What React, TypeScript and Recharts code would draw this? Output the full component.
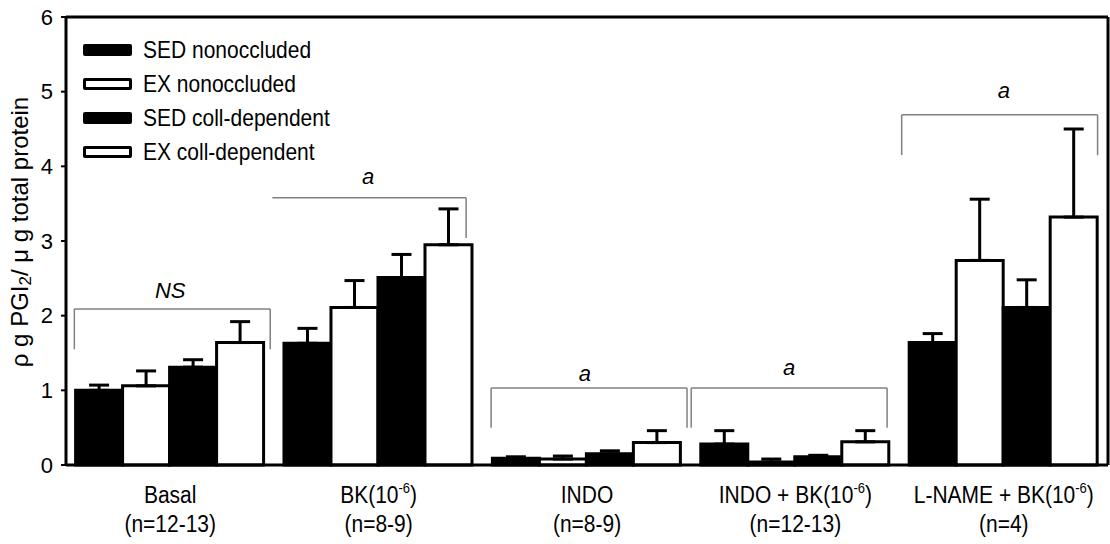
import React from 'react';
import {
  BarChart,
  Bar,
  ScatterChart,
  XAxis,
  YAxis,
  ErrorBar,
  ReferenceLine,
  ReferenceDot,
  Legend,
} from 'recharts';

// Treatment groups along the x axis
const groups = ['Basal', 'BK', 'INDO', 'INDO+BK', 'L-NAME+BK'];
const labelMain = ['Basal', 'BK(10', 'INDO', 'INDO + BK(10', 'L-NAME + BK(10'];
const labelSup = ['', '-6', '', '-6', '-6'];
const labelTail = ['', ')', '', ')', ')'];
const labelN = ['(n=12-13)', '(n=8-9)', '(n=8-9)', '(n=12-13)', '(n=4)'];

// Mean PGI2 release per series
const sedNonoccluded = [1.0, 1.63, 0.09, 0.28, 1.64];
const exNonoccluded = [1.06, 2.11, 0.08, 0.04, 2.74];
const sedCollDependent = [1.31, 2.51, 0.15, 0.11, 2.11];
const exCollDependent = [1.64, 2.95, 0.3, 0.31, 3.32];

// SEM (drawn upward only)
const sedNonoccludedErr = [0.07, 0.2, 0.02, 0.18, 0.12];
const exNonoccludedErr = [0.2, 0.36, 0.04, 0.04, 0.82];
const sedCollDependentErr = [0.1, 0.31, 0.04, 0.02, 0.37];
const exCollDependentErr = [0.28, 0.48, 0.16, 0.15, 1.18];

const seriesNames = ['SED nonoccluded', 'EX nonoccluded', 'SED coll-dependent', 'EX coll-dependent'];
const seriesKeys = ['sedNon', 'exNon', 'sedColl', 'exColl'];
const seriesFills = ['#000000', '#ffffff', '#000000', '#ffffff'];

const yTicks = [0, 1, 2, 3, 4, 5, 6];

// Significance brackets, in group-axis units (0..5) and y units
const bracketStart = [0.04, 0.99, 2.04, 3.0, 4.01];
const bracketEnd = [0.98, 1.92, 2.98, 3.94, 4.95];
const bracketTop = [2.09, 3.58, 1.03, 1.03, 4.69];
const bracketFoot = [1.55, 3.04, 0.5, 0.5, 4.15];
const bracketLeftLeg = [true, false, true, true, true];
const bracketText = ['NS', 'a', 'a', 'a', 'a'];
const bracketTextX = [0.5, 1.45, 2.49, 3.47, 4.5];
const bracketTextY = [2.34, 3.87, 1.22, 1.3, 5.02];

const FONT = "'Liberation Sans', Arial, Helvetica, sans-serif";
const W = 1110;
const H = 544;
const MARGIN = { top: 17, right: 2, left: 66, bottom: 79 };

const data = groups.map((g, i) => ({
  group: g,
  sedNon: sedNonoccluded[i],
  exNon: exNonoccluded[i],
  sedColl: sedCollDependent[i],
  exColl: exCollDependent[i],
  sedNonErr: [0, sedNonoccludedErr[i]],
  exNonErr: [0, exNonoccludedErr[i]],
  sedCollErr: [0, sedCollDependentErr[i]],
  exCollErr: [0, exCollDependentErr[i]],
}));

const GroupTick = (props: any) => {
  const { x, y, payload } = props;
  const i = groups.indexOf(payload.value);
  return (
    <g>
      <g transform={`translate(${x},${y + 38}) scale(1,1.15)`}>
        <text x={0} y={0} textAnchor="middle" fontSize={21} fill="#000" fontFamily={FONT}>
          {labelMain[i]}
          {labelSup[i] ? (
            <tspan dy={-9} fontSize={13}>
              {labelSup[i]}
            </tspan>
          ) : null}
          {labelTail[i] ? (
            <tspan dy={9} fontSize={21}>
              {labelTail[i]}
            </tspan>
          ) : null}
        </text>
      </g>
      <g transform={`translate(${x},${y + 67}) scale(1,1.15)`}>
        <text x={0} y={0} textAnchor="middle" fontSize={21} fill="#000" fontFamily={FONT}>
          {labelN[i]}
        </text>
      </g>
    </g>
  );
};

const YTitle = (props: any) => {
  const vb = props.viewBox || { x: 0, y: 17, width: 66, height: 448 };
  const cx = vb.x + 19;
  const cy = vb.y + vb.height / 2 - 9;
  return (
    <text
      x={cx}
      y={cy}
      transform={`rotate(-90 ${cx} ${cy})`}
      textAnchor="middle"
      dominantBaseline="central"
      fontSize={24}
      fill="#000"
      fontFamily={FONT}
    >
      ρ g PGI
      <tspan dy={6} fontSize={17}>2</tspan>
      <tspan dy={-6}>/ μ g total protein</tspan>
    </text>
  );
};

const LegendBox = () => (
  <div style={{ fontFamily: FONT, fontSize: 21, color: '#000' }}>
    {seriesNames.map((name, i) => (
      <div key={name} style={{ display: 'flex', alignItems: 'center', height: 34 }}>
        <span
          style={{
            display: 'inline-block',
            width: 49,
            height: 12,
            boxSizing: 'border-box',
            background: seriesFills[i],
            border: '3px solid #000',
            borderRadius: 2,
            marginRight: 11,
          }}
        />
        <span style={{ display: 'inline-block', transform: 'scaleY(1.1)' }}>{name}</span>
      </div>
    ))}
  </div>
);

const BracketLabel = (text: string) => (props: any) => {
  const vb = props.viewBox;
  const cx = vb.x + vb.width / 2;
  const cy = vb.y + vb.height / 2;
  return (
    <text
      x={cx}
      y={cy}
      textAnchor="middle"
      dominantBaseline="central"
      fontSize={22}
      fontStyle="italic"
      fill="#000"
      fontFamily={FONT}
    >
      {text}
    </text>
  );
};

export default function App() {
  return (
    <div style={{ position: 'absolute', left: 0, top: 0, width: W, height: H, background: '#fff', fontFamily: FONT }}>
      <BarChart
        width={W}
        height={H}
        data={data}
        margin={{ top: MARGIN.top, right: MARGIN.right, left: 0, bottom: 0 }}
        barCategoryGap="4.6%"
        barGap={0}
      >
        <XAxis
          dataKey="group"
          height={MARGIN.bottom}
          axisLine={{ stroke: '#000', strokeWidth: 3 }}
          tickLine={false}
          tickSize={0}
          tickMargin={0}
          interval={0}
          tick={<GroupTick />}
        />
        <YAxis
          width={MARGIN.left}
          domain={[0, 6]}
          ticks={yTicks}
          interval={0}
          axisLine={{ stroke: '#000', strokeWidth: 3 }}
          tickLine={{ stroke: '#000', strokeWidth: 2 }}
          tickSize={5}
          tickMargin={8}
          tick={{ fill: '#000', fontSize: 22, fontFamily: FONT }}
          label={<YTitle />}
        />
        <Legend
          layout="vertical"
          align="center"
          verticalAlign="middle"
          wrapperStyle={{ left: 83, top: 33, width: 'auto', height: 'auto' }}
          content={<LegendBox />}
        />
        {/* top edge of the plot frame */}
        <ReferenceLine y={6} stroke="#000" strokeWidth={3} ifOverflow="visible" />

        {seriesKeys.map((key, s) => (
          <Bar
            key={key}
            dataKey={key}
            name={seriesNames[s]}
            fill={seriesFills[s]}
            stroke="#000"
            strokeWidth={3}
            isAnimationActive={false}
          >
            <ErrorBar dataKey={`${key}Err`} direction="y" width={10} stroke="#000" strokeWidth={3} />
          </Bar>
        ))}
      </BarChart>

      {/* annotation layer: continuous group axis (0..5) over the same plot area */}
      <div style={{ position: 'absolute', left: 0, top: 0, pointerEvents: 'none' }}>
        <ScatterChart width={W} height={H} margin={MARGIN}>
          <XAxis type="number" dataKey="x" domain={[0, 5]} allowDataOverflow hide />
          <YAxis type="number" dataKey="y" domain={[0, 6]} allowDataOverflow hide />
          {/* right edge of the plot frame */}
          <ReferenceLine x={5} stroke="#000" strokeWidth={3} ifOverflow="visible" />
          {bracketStart.map((s, i) => (
            <ReferenceLine
              key={`top-${i}`}
              segment={[
                { x: s, y: bracketTop[i] },
                { x: bracketEnd[i], y: bracketTop[i] },
              ]}
              stroke="#808080"
              strokeWidth={1.5}
              ifOverflow="visible"
            />
          ))}
          {bracketStart.map((s, i) =>
            bracketLeftLeg[i] ? (
              <ReferenceLine
                key={`left-${i}`}
                segment={[
                  { x: s, y: bracketTop[i] },
                  { x: s, y: bracketFoot[i] },
                ]}
                stroke="#808080"
                strokeWidth={1.5}
                ifOverflow="visible"
              />
            ) : null
          )}
          {bracketEnd.map((e, i) => (
            <ReferenceLine
              key={`right-${i}`}
              segment={[
                { x: e, y: bracketTop[i] },
                { x: e, y: bracketFoot[i] },
              ]}
              stroke="#808080"
              strokeWidth={1.5}
              ifOverflow="visible"
            />
          ))}
          {bracketText.map((t, i) => (
            <ReferenceDot
              key={`txt-${i}`}
              x={bracketTextX[i]}
              y={bracketTextY[i]}
              r={0}
              fill="none"
              stroke="none"
              ifOverflow="visible"
              label={BracketLabel(t)}
            />
          ))}
        </ScatterChart>
      </div>
    </div>
  );
}
